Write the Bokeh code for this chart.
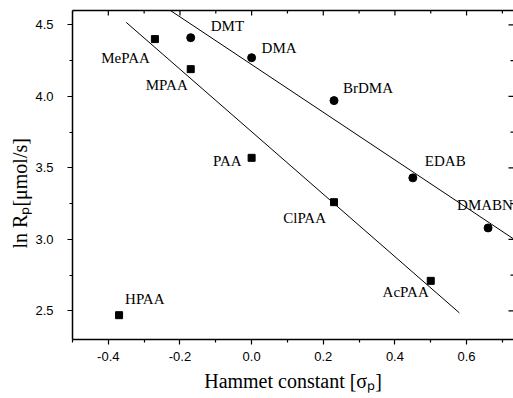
import numpy as np
from bokeh.plotting import figure
from bokeh.models import (LinearAxis, FixedTicker, NumeralTickFormatter, Range1d,
                          ColumnDataSource, Title)
from bokeh.core.properties import value
from bokeh.embed import file_html
from bokeh.resources import INLINE

# ---- data ----
paa_names = ["MePAA", "MPAA", "PAA", "ClPAA", "AcPAA", "HPAA"]
paa_sigma = [-0.27, -0.17, 0.00, 0.23, 0.50, -0.37]
paa_lnR = [4.40, 4.19, 3.57, 3.26, 2.71, 2.47]
paa_in_fit = [True, True, True, True, True, False]

dma_names = ["DMT", "DMA", "BrDMA", "EDAB", "DMABN"]
dma_sigma = [-0.17, 0.00, 0.23, 0.45, 0.66]
dma_lnR = [4.41, 4.27, 3.97, 3.43, 3.08]

paa_fit_span = [-0.35, 0.58]
dma_fit_span = [-0.30, 0.80]

x_ticks = [-0.4, -0.2, 0.0, 0.2, 0.4, 0.6]
x_minor = [-0.5, -0.3, -0.1, 0.1, 0.3, 0.5, 0.7]
y_ticks = [2.5, 3.0, 3.5, 4.0, 4.5]
y_minor = [2.25, 2.75, 3.25, 3.75, 4.25]

X_MIN, X_MAX = -0.5, 0.731
Y_MIN, Y_MAX = 2.3, 4.6

# label placement (styling, pixels)
paa_lab_dx = [-5, -3, -10, -8, -2, 6]
paa_lab_dy = [19, 16, 3, 16, 11, -16]
paa_lab_align = ["right", "right", "right", "right", "right", "left"]
dma_lab_dx = [20, 10, 9, 12, -31]
dma_lab_dy = [-12, -10, -13, -17, -23]

SERIF = "Liberation Serif"
SANS = "Liberation Sans"

p = figure(width=513, height=398, output_backend="svg", toolbar_location=None,
           x_range=Range1d(X_MIN, X_MAX), y_range=Range1d(Y_MIN, Y_MAX),
           min_border_left=72, min_border_right=0, min_border_top=10,
           min_border_bottom=59, x_axis_location=None, y_axis_location=None)
p.grid.visible = False
p.outline_line_color = None
p.background_fill_color = "white"
p.border_fill_color = "white"

def style_axis(ax, ticks, minor):
    ax.ticker = FixedTicker(ticks=ticks, minor_ticks=minor)
    ax.axis_line_color = "black"
    ax.axis_line_width = 1.5
    ax.major_tick_line_color = "black"
    ax.minor_tick_line_color = "black"
    ax.major_tick_line_width = 1.2
    ax.minor_tick_line_width = 1.2
    ax.major_tick_in, ax.major_tick_out = 0, 5
    ax.minor_tick_in, ax.minor_tick_out = 0, 3
    ax.formatter = NumeralTickFormatter(format="0.0")
    ax.major_label_text_font = SANS
    ax.major_label_text_font_size = "13px"
    ax.major_label_text_color = "black"
    ax.axis_label_text_font = SERIF
    ax.axis_label_text_font_style = "normal"
    ax.axis_label_text_font_size = "20px"
    ax.axis_label_text_color = "black"

xb = LinearAxis()
style_axis(xb, x_ticks, x_minor)
xb.major_label_standoff = 7
xb.axis_label = "Hammet constant [σₚ]"
xb.axis_label_standoff = 6
p.add_layout(xb, "below")

yl = LinearAxis()
style_axis(yl, y_ticks, y_minor)
yl.major_label_standoff = 14
p.add_layout(yl, "left")

# y-axis title, starting a little below the frame centre as in the original
p.add_layout(Title(text="ln Rₚ[μmol/s]", align="left", offset=91, standoff=4,
                   text_font=SERIF, text_font_size="20px", text_font_style="normal",
                   text_color="black"), "left")

# top frame line (no ticks/labels of its own)
xt = LinearAxis(ticker=FixedTicker(ticks=[], minor_ticks=[]))
xt.axis_line_color = "black"
xt.axis_line_width = 1.5
xt.major_label_standoff = 0
p.add_layout(xt, "above")

# inward ticks on top / right edges
p.ray(x=x_ticks, y=[Y_MAX] * len(x_ticks), length=5, length_units="screen",
      angle=-np.pi / 2, line_color="black", line_width=1.2)
p.ray(x=x_minor, y=[Y_MAX] * len(x_minor), length=3, length_units="screen",
      angle=-np.pi / 2, line_color="black", line_width=1.2)
p.ray(x=[X_MAX] * len(y_ticks), y=y_ticks, length=5, length_units="screen",
      angle=np.pi, line_color="black", line_width=1.2)
p.ray(x=[X_MAX] * len(y_minor), y=y_minor, length=3, length_units="screen",
      angle=np.pi, line_color="black", line_width=1.2)

# fit lines
mask = np.array(paa_in_fit)
k1, b1 = np.polyfit(np.array(paa_sigma)[mask], np.array(paa_lnR)[mask], 1)
fx1 = np.array(paa_fit_span)
p.line(fx1, k1 * fx1 + b1, line_color="black", line_width=1)
k2, b2 = np.polyfit(dma_sigma, dma_lnR, 1)
fx2 = np.array(dma_fit_span)
p.line(fx2, k2 * fx2 + b2, line_color="black", line_width=1)

# markers
p.scatter(paa_sigma, paa_lnR, marker="square", size=7, color="black")
p.scatter(dma_sigma, dma_lnR, marker="circle", size=8, color="black")

# labels
paa_src = ColumnDataSource(dict(x=paa_sigma, y=paa_lnR, t=paa_names,
                                dx=paa_lab_dx, dy=paa_lab_dy, al=paa_lab_align))
p.text(x="x", y="y", text="t", x_offset="dx", y_offset="dy", text_align="al",
       text_baseline="middle", text_font=value(SERIF), text_font_size="15px",
       text_color="black", source=paa_src)
dma_src = ColumnDataSource(dict(x=dma_sigma, y=dma_lnR, t=dma_names,
                                dx=dma_lab_dx, dy=dma_lab_dy))
p.text(x="x", y="y", text="t", x_offset="dx", y_offset="dy", text_align="left",
       text_baseline="middle", text_font=value(SERIF), text_font_size="15px",
       text_color="black", source=dma_src)

open("out.html", "w").write(file_html(p, INLINE))
